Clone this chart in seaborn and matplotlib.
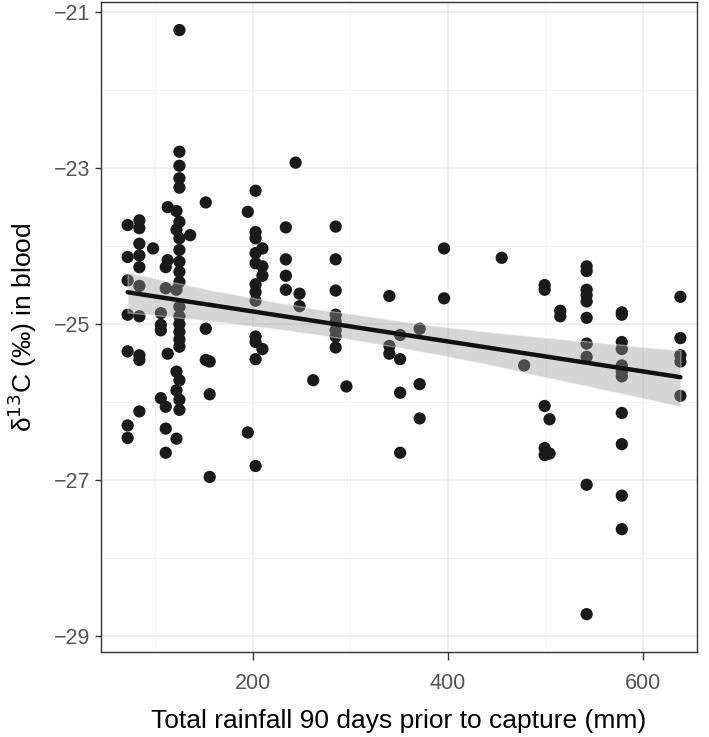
import matplotlib
matplotlib.use("Agg")
import matplotlib.pyplot as plt
import seaborn as sns
import pandas as pd
from matplotlib.ticker import FixedLocator

# ---- data ----
rain_72 = [-23.73, -24.14, -24.44, -24.88, -25.35, -26.30, -26.46]
rain_84 = [-23.67, -23.77, -23.97, -24.12, -24.27, -24.51, -24.90, -25.40, -25.46, -26.12]
rain_98 = [-24.03]
rain_106 = [-24.86, -25.01, -25.08, -25.95]
rain_111 = [-24.27, -24.54, -26.06, -26.34, -26.65]
rain_113 = [-23.50, -24.18, -25.38]
rain_122 = [-23.55, -23.79, -24.56, -25.61, -25.85, -26.47]
rain_125 = [-21.23, -22.79, -22.97, -23.13, -23.25, -23.69, -23.90, -24.05, -24.20,
            -24.33, -24.46, -24.78, -24.90, -25.00, -25.10, -25.20, -25.29, -25.72,
            -25.97, -26.10]
rain_136 = [-23.86]
rain_152 = [-23.44, -25.06, -25.46]
rain_156 = [-25.48, -25.90, -26.96]
rain_195 = [-23.56, -26.39]
rain_203 = [-23.29, -23.82, -23.90, -24.09, -24.22, -24.49, -24.59, -24.70, -25.16,
            -25.23, -25.45, -26.82]
rain_210 = [-24.03, -24.26, -24.38, -25.32]
rain_234 = [-23.76, -24.17, -24.38, -24.56]
rain_244 = [-22.93]
rain_248 = [-24.61, -24.77]
rain_262 = [-25.72]
rain_285 = [-23.75, -24.17, -24.57, -24.88, -24.97, -25.08, -25.16, -25.30]
rain_296 = [-25.80]
rain_340 = [-24.64, -25.28, -25.38]
rain_351 = [-25.14, -25.45, -25.88, -26.65]
rain_371 = [-25.06, -25.77, -26.21]
rain_396 = [-24.03, -24.67]
rain_455 = [-24.15]
rain_478 = [-25.53]
rain_499 = [-24.50, -24.56, -26.05, -26.59, -26.68]
rain_504 = [-26.22, -26.66]
rain_515 = [-24.83, -24.90]
rain_542 = [-24.26, -24.32, -24.56, -24.63, -24.71, -24.92, -25.25, -25.42, -27.06, -28.72]
rain_578 = [-24.85, -24.88, -25.23, -25.32, -25.53, -25.61, -25.67, -26.14, -26.54,
            -27.20, -27.63]
rain_638 = [-24.65, -25.18, -25.40, -25.48, -25.92]

rain_levels = [72, 84, 98, 106, 111, 113, 122, 125, 136, 152, 156, 195, 203, 210, 234,
               244, 248, 262, 285, 296, 340, 351, 371, 396, 455, 478, 499, 504, 515,
               542, 578, 638]
d13c_groups = [rain_72, rain_84, rain_98, rain_106, rain_111, rain_113, rain_122,
               rain_125, rain_136, rain_152, rain_156, rain_195, rain_203, rain_210,
               rain_234, rain_244, rain_248, rain_262, rain_285, rain_296, rain_340,
               rain_351, rain_371, rain_396, rain_455, rain_478, rain_499, rain_504,
               rain_515, rain_542, rain_578, rain_638]

x_ticks = [200, 400, 600]
y_ticks = [-29, -27, -25, -23, -21]

rows = []
for r, vals in zip(rain_levels, d13c_groups):
    for v in vals:
        rows.append((r, v))
df = pd.DataFrame(rows, columns=["rain", "d13c"])

# ---- plot ----
sns.set_theme(style="whitegrid")
plt.rcParams["font.family"] = ["Liberation Sans", "DejaVu Sans"]

fig = plt.figure(figsize=(7.09, 7.37), dpi=100)
ax = fig.add_axes([101 / 709, 1 - 652 / 737, 596 / 709, 650 / 737])

sns.regplot(data=df, x="rain", y="d13c", ax=ax, ci=95, n_boot=2000, seed=3,
            scatter_kws=dict(s=78, color="#1a1a1a", alpha=1, edgecolor="none", zorder=3),
            line_kws=dict(color="#111111", lw=3.2, zorder=4),
            color="#111111")
for coll in ax.collections[1:]:
    coll.set_facecolor("#999999")
    coll.set_alpha(0.4)
    coll.set_zorder(3.5)

ax.set_xlim(44.7, 655.0)
ax.set_ylim(-29.205, -20.87)
ax.xaxis.set_major_locator(FixedLocator(x_ticks))
ax.yaxis.set_major_locator(FixedLocator(y_ticks))
ax.xaxis.set_minor_locator(FixedLocator([100, 300, 500]))
ax.yaxis.set_minor_locator(FixedLocator([-28, -26, -24, -22]))
ax.set_xticklabels([str(t) for t in x_ticks])
ax.set_yticklabels(["\u2212" + str(abs(t)) for t in y_ticks])

ax.set_facecolor("white")
ax.grid(which="major", color="#ebebeb", lw=1.1)
ax.grid(which="minor", color="#f2f2f2", lw=0.6)
ax.set_axisbelow(True)
for sp in ax.spines.values():
    sp.set_color("#333333")
    sp.set_linewidth(1.0)

ax.tick_params(axis="both", which="major", width=1.0, color="#333333",
               labelsize=15.5, labelcolor="#555555",
               bottom=True, left=True)
ax.tick_params(axis="x", which="major", length=6, pad=9)
ax.tick_params(axis="y", which="major", length=4, pad=3.5)
ax.tick_params(axis="both", which="minor", length=0)

ax.set_xlabel("Total rainfall 90 days prior to capture (mm)", fontsize=19,
              color="black", labelpad=11)
ax.set_ylabel(r"δ$^{13}$C (‰) in blood", fontsize=19, color="black", labelpad=11)

fig.savefig("out.png", dpi=100)
